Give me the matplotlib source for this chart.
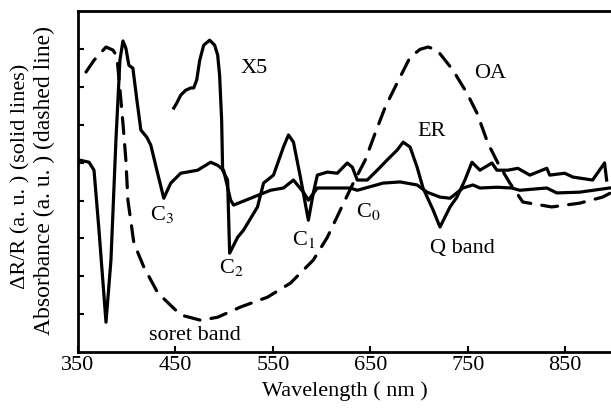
import matplotlib
matplotlib.use('Agg')
import matplotlib.pyplot as plt

plt.rcParams['font.family'] = ['Liberation Serif', 'DejaVu Serif']
plt.rcParams['mathtext.fontset'] = 'stix'

# wide-range ER curve (with C3 dip) -- wavelength (nm), signal (a.u.)
er1_wl = [351.0, 361.3, 366.4, 371.5, 378.7, 383.8, 388.9, 393.0, 396.1, 399.1,
          402.2, 406.3, 410.4, 414.5, 420.6, 424.7, 430.9, 438.0, 445.2, 455.4,
          472.8, 486.1, 493.3, 499.4, 506.6, 509.7, 530.1, 547.5, 560.8, 571.1,
          581.3, 586.4, 595.6, 629.4, 636.6, 663.2, 680.6, 698.0, 708.2, 721.5,
          731.8, 745.1, 755.3, 762.5, 779.9, 795.2, 803.4, 831.1, 841.3, 864.8,
          895.5]
er1_y = [5.07, 5.01, 4.80, 3.22, 0.79, 2.43, 5.59, 7.70, 8.21, 8.02,
         7.57, 7.49, 6.65, 5.86, 5.67, 5.46, 4.80, 4.06, 4.46, 4.72,
         4.80, 5.01, 4.93, 4.80, 4.01, 3.88, 4.09, 4.27, 4.33, 4.54,
         4.22, 4.01, 4.33, 4.33, 4.27, 4.46, 4.49, 4.41, 4.22, 4.09,
         4.06, 4.33, 4.41, 4.33, 4.35, 4.33, 4.27, 4.33, 4.20, 4.22,
         4.33]

# ER curve starting with the X5 segment (C2, C1, C0, Q band)
er2_wl = [448.3, 451.3, 455.4, 460.5, 465.7, 468.7, 471.8, 474.9, 479.0, 485.1,
          490.2, 493.3, 495.3, 497.4, 498.4, 503.5, 505.6, 513.8, 519.9, 534.2,
          540.4, 550.6, 560.8, 566.0, 571.1, 578.2, 586.4, 591.5, 595.6, 605.9,
          616.1, 626.3, 631.5, 636.6, 646.8, 657.1, 667.3, 677.5, 683.7, 690.8,
          698.0, 704.1, 714.4, 721.5, 731.8, 738.9, 747.1, 754.3, 762.5, 774.8,
          779.9, 791.1, 801.4, 813.7, 831.1, 834.1, 849.5, 857.7, 878.1, 890.4,
          892.5]
er2_y = [6.44, 6.57, 6.78, 6.91, 6.97, 6.97, 7.18, 7.70, 8.10, 8.23,
         8.10, 7.84, 7.31, 6.12, 4.80, 4.54, 2.61, 3.03, 3.22, 3.83,
         4.46, 4.67, 5.41, 5.73, 5.54, 4.62, 3.48, 4.20, 4.67, 4.75,
         4.72, 4.99, 4.88, 4.54, 4.54, 4.80, 5.07, 5.33, 5.54, 5.41,
         4.88, 4.33, 3.75, 3.30, 3.83, 4.09, 4.54, 5.01, 4.80, 4.99,
         4.80, 4.80, 4.85, 4.67, 4.85, 4.67, 4.72, 4.62, 4.54, 4.99,
         4.54]

# optical absorption (dashed)
oa_wl = [358.2, 366.4, 378.7, 385.8, 389.9, 394.0, 396.1, 399.1, 401.2, 407.3,
         417.6, 431.9, 455.4, 475.9, 493.3, 516.8, 544.5, 568.0, 591.5, 605.9,
         619.2, 631.5, 644.8, 655.0, 665.2, 677.5, 690.8, 701.1, 709.3, 718.5,
         734.8, 749.2, 759.4, 770.7, 780.9, 793.2, 806.5, 836.2, 864.8, 888.4,
         896.6]
oa_y = [7.39, 7.70, 8.05, 7.97, 7.81, 6.65, 6.04, 5.07, 4.01, 2.88,
        2.24, 1.56, 0.98, 0.84, 0.92, 1.19, 1.45, 1.82, 2.43, 3.03,
        3.75, 4.41, 5.07, 5.78, 6.46, 7.10, 7.78, 7.99, 8.05, 7.97,
        7.44, 6.83, 6.31, 5.51, 4.99, 4.46, 3.96, 3.83, 3.93, 4.09,
        4.20]

xticks = [350, 450, 550, 650, 750, 850]
yticks = [1, 2, 3, 4, 5, 6, 7, 8]

fig = plt.figure(figsize=(6.11, 4.08), dpi=100)
ax = fig.add_axes([0.1277, 0.137, 0.8723, 0.836])

ax.plot(er1_wl, er1_y, color='black', lw=2.3, solid_joinstyle='round')
ax.plot(er2_wl, er2_y, color='black', lw=2.3, solid_joinstyle='round')
ax.plot(oa_wl, oa_y, color='black', lw=2.3, linestyle=(0, (5, 3.5)),
        dash_capstyle='round')

ax.set_xlim(350, 897)
ax.set_ylim(0, 9)
ax.set_xticks(xticks)
ax.set_yticks(yticks)
ax.set_yticklabels([])
ax.tick_params(direction='in', length=4, width=1.5)
ax.tick_params(axis='x', labelsize=16, pad=3)
ax.spines['right'].set_visible(False)
for s in ['left', 'top', 'bottom']:
    ax.spines[s].set_linewidth(2)

ax.set_xlabel('Wavelength ( nm )', fontsize=16, labelpad=4)
fig.text(0.034, 0.568, 'ΔR/R (a. u. ) (solid lines)', rotation=90,
         ha='center', va='center', fontsize=16)
fig.text(0.072, 0.558, 'Absorbance (a. u. ) (dashed line)', rotation=90,
         ha='center', va='center', fontsize=17)

labels = [('X5', 531.2, 7.49), ('OA', 772.7, 7.36), ('ER', 713.4, 5.83),
          ('C$_3$', 436.0, 3.64), ('C$_2$', 507.6, 2.22), ('C$_1$', 581.3, 2.98),
          ('C$_0$', 647.8, 3.72), ('Q band', 744.1, 2.74),
          ('soret band', 469.8, 0.45)]
for txt, x, y in labels:
    ax.text(x, y, txt, ha='center', va='center', fontsize=16)

fig.savefig('out.png', dpi=100)
